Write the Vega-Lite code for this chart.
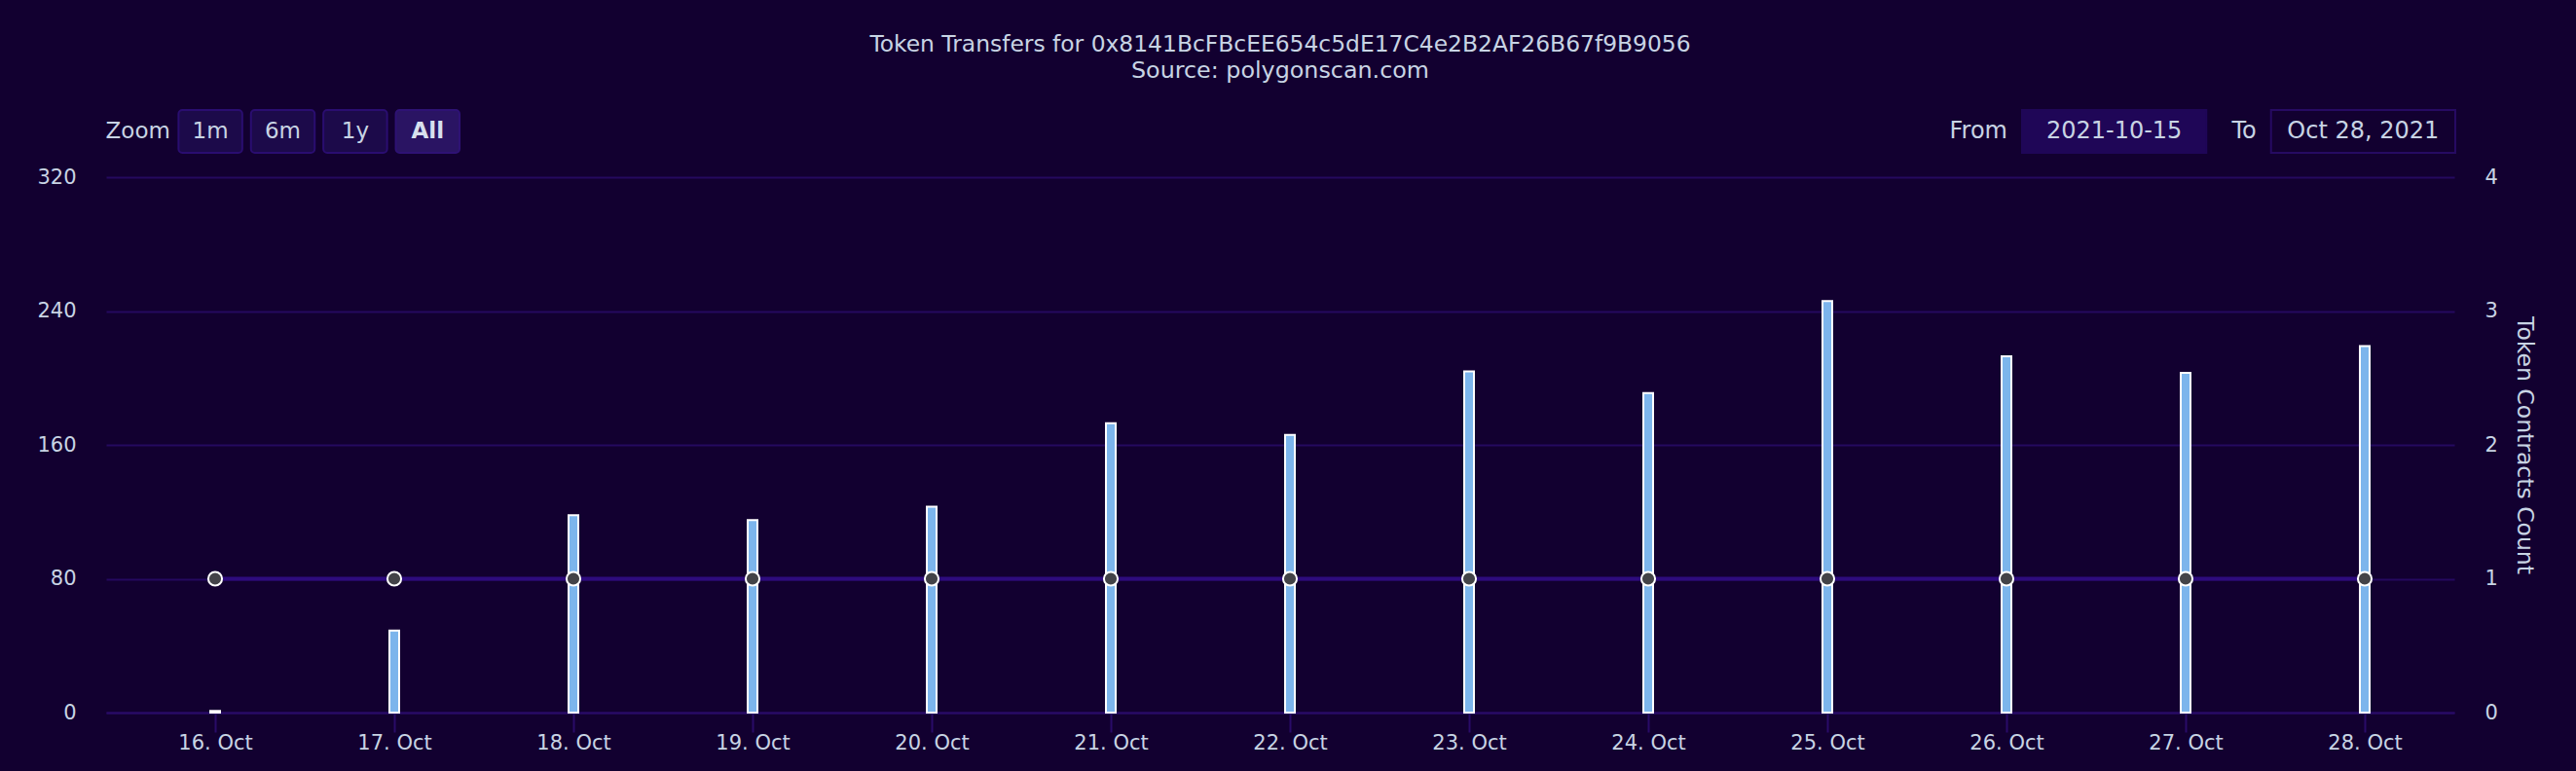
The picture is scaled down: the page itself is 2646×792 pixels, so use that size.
{
  "$schema": "https://vega.github.io/schema/vega-lite/v6.json",
  "background": "#120030",
  "padding": {"left": 37, "top": 33, "right": 43, "bottom": 22},
  "title": {
    "text": "Token Transfers for 0x8141BcFBcEE654c5dE17C4e2B2AF26B67f9B9056",
    "subtitle": "Source: polygonscan.com",
    "anchor": "middle",
    "frame": "group",
    "font": "DejaVu Sans",
    "fontSize": 23.4,
    "fontWeight": "normal",
    "color": "#c8d4e4",
    "subtitleFont": "DejaVu Sans",
    "subtitleFontSize": 23.8,
    "subtitleColor": "#c8d4e4",
    "subtitlePadding": 3,
    "offset": 26
  },
  "config": {
    "view": {"stroke": null},
    "font": "DejaVu Sans"
  },
  "datasets": {
    "zoom": [
      {"label": "Zoom", "state": "label"},
      {"label": "1m", "state": "idle"},
      {"label": "6m", "state": "idle"},
      {"label": "1y", "state": "idle"},
      {"label": "All", "state": "selected"}
    ],
    "range": [
      {"label": "From", "value": "2021-10-15", "state": "active"},
      {"label": "To", "value": "Oct 28, 2021", "state": "idle"}
    ],
    "main": [
      {"date": "2021-10-16", "transfers": 1, "contracts": 1},
      {"date": "2021-10-17", "transfers": 49, "contracts": 1},
      {"date": "2021-10-18", "transfers": 118, "contracts": 1},
      {"date": "2021-10-19", "transfers": 115, "contracts": 1},
      {"date": "2021-10-20", "transfers": 123, "contracts": 1},
      {"date": "2021-10-21", "transfers": 173, "contracts": 1},
      {"date": "2021-10-22", "transfers": 166, "contracts": 1},
      {"date": "2021-10-23", "transfers": 204, "contracts": 1},
      {"date": "2021-10-24", "transfers": 191, "contracts": 1},
      {"date": "2021-10-25", "transfers": 246, "contracts": 1},
      {"date": "2021-10-26", "transfers": 213, "contracts": 1},
      {"date": "2021-10-27", "transfers": 203, "contracts": 1},
      {"date": "2021-10-28", "transfers": 219, "contracts": 1}
    ]
  },
  "bounds": "flush",
  "spacing": 25,
  "vconcat": [
    {
      "width": 2412,
      "height": 44,
      "layer": [
        {
          "data": {"name": "zoom"},
          "encoding": {
            "x": {"field": "label", "type": "nominal", "sort": null, "scale": {"range": [0, 363], "paddingInner": 0.12, "paddingOuter": 0}, "axis": null}
          },
          "layer": [
            {
              "mark": {"type": "bar", "cornerRadius": 4, "strokeWidth": 2},
              "encoding": {
                "color": {"field": "state", "type": "nominal", "scale": {"domain": ["label", "idle", "selected"], "range": ["rgba(0,0,0,0)", "#1c0a4a", "#2a1463"]}, "legend": null},
                "stroke": {"field": "state", "type": "nominal", "scale": {"domain": ["label", "idle", "selected"], "range": ["rgba(0,0,0,0)", "#2a0d70", "#2e1274"]}, "legend": null}
              }
            },
            {
              "transform": [{"filter": "datum.state != 'selected'"}],
              "mark": {"type": "text", "fontSize": 23, "color": "#c8d4e4", "baseline": "middle", "align": "center"},
              "encoding": {"text": {"field": "label"}}
            },
            {
              "transform": [{"filter": "datum.state == 'selected'"}],
              "mark": {"type": "text", "fontSize": 23, "fontWeight": "bold", "color": "#d8e0ee", "baseline": "middle", "align": "center"},
              "encoding": {"text": {"field": "label"}}
            }
          ]
        },
        {
          "data": {"name": "range"},
          "encoding": {
            "x": {"field": "label", "type": "nominal", "sort": null, "scale": {"range": [1968, 2413], "paddingInner": 0.26, "paddingOuter": 0}, "axis": null}
          },
          "layer": [
            {
              "mark": {"type": "bar", "strokeWidth": 2},
              "encoding": {
                "color": {"field": "state", "type": "nominal", "scale": {"domain": ["active", "idle"], "range": ["#1f0657", "#120030"]}, "legend": null},
                "stroke": {"field": "state", "type": "nominal", "scale": {"domain": ["active", "idle"], "range": ["#1f0657", "#260a62"]}, "legend": null}
              }
            },
            {
              "mark": {"type": "text", "fontSize": 24, "color": "#c8d4e4", "baseline": "middle", "align": "center"},
              "encoding": {"text": {"field": "value"}}
            },
            {
              "mark": {"type": "text", "fontSize": 24, "color": "#c8d4e4", "baseline": "middle", "align": "right", "dx": -15},
              "encoding": {
                "x": {"field": "label", "type": "nominal", "sort": null, "bandPosition": 0, "axis": null},
                "text": {"field": "label"}
              }
            }
          ]
        }
      ],
      "resolve": {"scale": {"x": "independent", "color": "independent", "stroke": "independent"}}
    },
    {
      "width": 2412,
      "height": 550,
      "data": {"name": "main"},
      "layer": [
        {
          "mark": {"type": "bar", "size": 10, "color": "#7cb5ec", "stroke": "#ffffff", "strokeWidth": 2},
          "encoding": {
            "x": {
              "field": "date", "type": "temporal",
              "scale": {"type": "utc", "domain": [1634289808000, 1635422400000], "padding": 0, "nice": false},
              "axis": {
                "title": null,
                "format": "%d. %b",
                "values": [1634342400000, 1634428800000, 1634515200000, 1634601600000, 1634688000000, 1634774400000, 1634860800000, 1634947200000, 1635033600000, 1635120000000, 1635206400000, 1635292800000, 1635379200000],
                "grid": false,
                "labelFontSize": 21,
                "labelColor": "#c8d4e4",
                "labelPadding": 0,
                "labelFlush": false,
                "labelOverlap": false,
                "tickColor": "#290b68",
                "tickSize": 20,
                "tickWidth": 2,
                "domainColor": "#290b68",
                "domainWidth": 2
              }
            },
            "y": {
              "field": "transfers", "type": "quantitative",
              "scale": {"domain": [0, 320]},
              "axis": {
                "title": null,
                "values": [0, 80, 160, 240, 320],
                "grid": true,
                "gridColor": "#25095f",
                "gridWidth": 2,
                "ticks": false,
                "domain": false,
                "labelPadding": 31,
                "labelFontSize": 21,
                "labelColor": "#c8d4e4"
              }
            }
          }
        },
        {
          "encoding": {
            "x": {"field": "date", "type": "temporal"},
            "y": {
              "field": "contracts", "type": "quantitative",
              "scale": {"domain": [0, 4]},
              "axis": {
                "orient": "right",
                "title": "Token Contracts Count",
                "titleFontSize": 23.5,
                "titleFontWeight": "normal",
                "titleColor": "#c8d4e4",
                "titlePadding": 15,
                "values": [0, 1, 2, 3, 4],
                "grid": false,
                "ticks": false,
                "domain": false,
                "labelPadding": 31,
                "labelFontSize": 21,
                "labelColor": "#c8d4e4"
              }
            }
          },
          "layer": [
            {"mark": {"type": "line", "color": "#2e0b7e", "strokeWidth": 4}},
            {"mark": {"type": "point", "filled": true, "size": 200, "color": "#434348", "stroke": "#ffffff", "strokeWidth": 2, "opacity": 1}}
          ]
        }
      ],
      "resolve": {"scale": {"y": "independent"}}
    }
  ]
}
